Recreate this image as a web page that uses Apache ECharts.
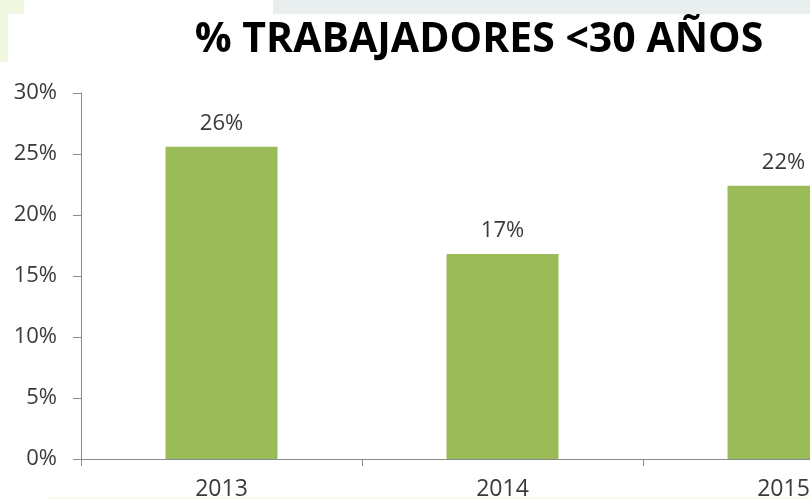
<!DOCTYPE html>
<html>
<head>
<meta charset="utf-8">
<style>
  html, body { margin: 0; padding: 0; background: #ffffff; }
  #chart { width: 810px; height: 499px; }
</style>
<script src="https://cdn.jsdelivr.net/npm/echarts@6/dist/echarts.min.js"></script>
</head>
<body>
<div id="chart"></div>
<script>
// Share of workers under 30, by year
const years = ['2013', '2014', '2015'];
const shareUnder30 = [25.6, 16.8, 22.4];
const yTicks = { min: 0, max: 30, interval: 5 };
const titleText = '% TRABAJADORES <30 AÑOS';

const textColor = '#3a3a3a';
const axisColor = '#8c8c8c';
const fontFamily = '"Open Sans", "DejaVu Sans", sans-serif';

const chart = echarts.init(document.getElementById('chart'), null, { renderer: 'canvas' });

chart.setOption({
  animation: false,
  backgroundColor: '#ffffff',
  title: {
    text: titleText,
    left: 474,
    textAlign: 'center',
    top: 15,
    textStyle: {
      fontFamily: fontFamily,
      fontWeight: 'bold',
      fontSize: 41,
      color: '#000000'
    }
  },
  graphic: [
    { type: 'rect', shape: { x: 273, y: 0, width: 537, height: 14 }, style: { fill: '#e9efef' }, silent: true, z: -10 },
    { type: 'rect', shape: { x: 0, y: 0, width: 24, height: 14 }, style: { fill: '#f1f8e2' }, silent: true, z: -10 },
    { type: 'rect', shape: { x: 0, y: 14, width: 8, height: 48 }, style: { fill: '#f1f8e2' }, silent: true, z: -10 },
    { type: 'rect', shape: { x: 50, y: 497, width: 760, height: 2 }, style: { fill: '#f6fbea' }, silent: true, z: -10 }
  ],
  // the plot runs past the right edge, so the last bar is clipped
  grid: {
    left: 81,
    top: 93,
    width: 843,
    height: 366,
    containLabel: false,
    outerBoundsMode: 'none'
  },
  xAxis: {
    type: 'category',
    data: years,
    axisLine: { show: true, lineStyle: { color: axisColor, width: 1 } },
    axisTick: { show: true, length: 7, lineStyle: { color: axisColor } },
    axisLabel: {
      margin: 19,
      fontFamily: fontFamily,
      fontSize: 23,
      color: textColor
    },
    splitLine: { show: false }
  },
  yAxis: {
    type: 'value',
    min: yTicks.min,
    max: yTicks.max,
    interval: yTicks.interval,
    axisLine: { show: true, lineStyle: { color: axisColor, width: 1 } },
    axisTick: { show: true, length: 8, lineStyle: { color: axisColor } },
    axisLabel: {
      margin: 24,
      fontFamily: fontFamily,
      fontSize: 22,
      color: textColor,
      formatter: v => v + '%'
    },
    splitLine: { show: false }
  },
  series: [{
    type: 'bar',
    data: shareUnder30,
    barWidth: 112,
    itemStyle: { color: '#9bbb59' },
    label: {
      show: true,
      position: 'top',
      distance: 12,
      fontFamily: fontFamily,
      fontSize: 22,
      color: textColor,
      formatter: p => Math.round(p.value) + '%'
    }
  }]
});
</script>
</body>
</html>
